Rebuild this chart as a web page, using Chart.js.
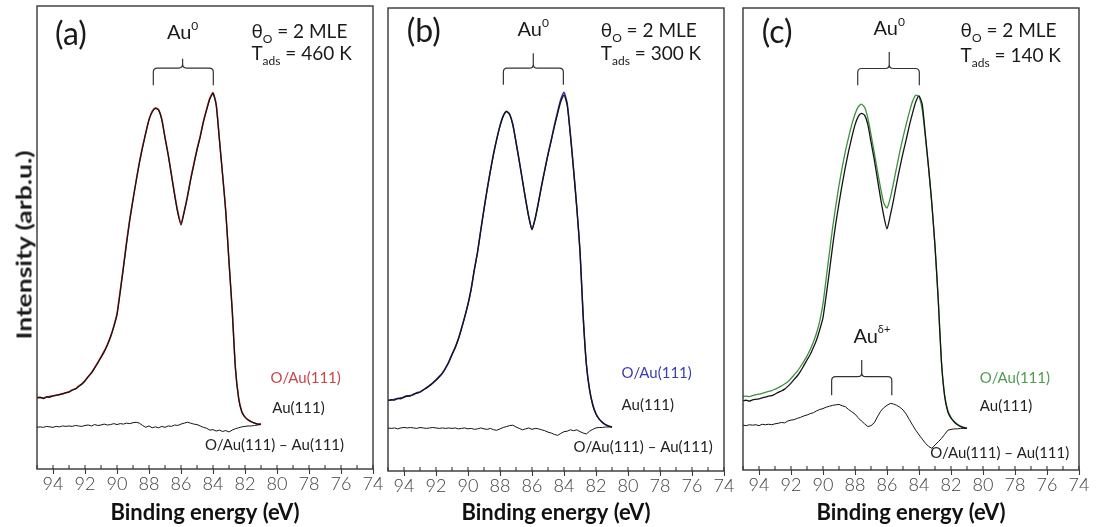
<!DOCTYPE html>
<html><head><meta charset="utf-8">
<script src="https://cdn.jsdelivr.net/npm/chart.js@4.4.1/dist/chart.umd.min.js"></script>
<style>
html,body{margin:0;padding:0;background:#fff;}
#wrap{position:relative;width:1096px;height:527px;overflow:hidden;background:#fff;}
canvas{position:absolute;top:0;}
#ytitle{position:absolute;left:23px;top:245px;transform:translate(-50%,-50%) rotate(-90deg) scale(1.26,1);font:bold 21px Lato,"Noto Sans",sans-serif;white-space:nowrap;color:#1a1a1a;}
</style></head><body>
<div id="wrap">
<canvas id="ca" width="392" height="527" style="left:0px;width:392px;height:527px"></canvas>
<canvas id="cb" width="362" height="527" style="left:378px;width:362px;height:527px"></canvas>
<canvas id="cc" width="363" height="527" style="left:733px;width:363px;height:527px"></canvas>
<div id="ytitle">Intensity (arb.u.)</div>
</div>
<script>
// Binding energies (eV)
const energy = [
 95.0,94.8,94.6,94.4,94.2,94.0,93.8,93.6,93.4,93.2,
 93.0,92.8,92.6,92.4,92.2,92.0,91.8,91.6,91.4,91.2,
 91.0,90.8,90.6,90.4,90.2,90.0,89.8,89.6,89.4,89.2,
 89.0,88.8,88.6,88.4,88.2,88.0,87.8,87.6,87.4,87.2,
 87.0,86.8,86.6,86.4,86.2,86.0,85.8,85.6,85.4,85.2,
 85.0,84.8,84.6,84.4,84.2,84.0,83.8,83.6,83.4,83.2,
 83.0,82.8,82.6,82.4,82.2,82.0,81.8,81.6,81.4,81.2,
 81.0];
const tickValues = [94,92,90,88,86,84,82,80,78,76,74];

// Panel (a) T_ads = 460 K
const auA = [
 15.3,15.5,15.2,15.6,15.5,15.8,15.9,16.1,16.2,16.5,
 16.6,17.0,17.3,17.8,18.3,19.0,19.9,20.7,21.8,22.9,
 24.1,25.3,26.8,28.5,30.7,33.3,38.2,43.4,48.8,53.8,
 58.1,62.2,66.1,69.5,72.6,75.4,77.1,77.9,77.5,75.4,
 71.5,67.8,63.5,59.2,55.3,52.7,55.5,58.7,62.4,65.7,
 68.9,71.7,74.9,77.5,79.9,81.1,78.6,71.1,63.5,55.5,
 44.7,34.3,21.8,15.3,12.3,11.2,10.6,10.2,9.9,9.7,
 9.7];
const oA = [
 15.5,15.4,15.4,15.5,15.7,15.8,16.0,16.0,16.3,16.4,
 16.7,17.1,17.3,17.9,18.4,19.1,20.0,20.8,21.9,23.0,
 24.2,25.5,26.9,28.7,30.9,33.6,38.5,43.7,49.1,54.0,
 58.3,62.4,66.3,69.6,72.7,75.5,77.3,78.0,77.6,75.6,
 71.7,68.0,63.7,59.4,55.6,53.0,55.7,58.9,62.6,65.9,
 69.1,71.9,75.1,77.7,80.1,81.3,78.8,71.3,63.6,55.6,
 44.8,34.4,21.9,15.4,12.4,11.2,10.6,10.2,9.9,9.7,
 9.7];
const dA = [
 9.0,9.1,9.0,9.2,9.1,9.0,9.2,9.1,9.3,9.2,
 9.3,9.2,9.4,9.3,9.2,9.4,9.5,9.3,9.6,9.4,
 9.5,9.7,9.5,9.6,9.8,9.6,9.8,9.7,9.9,9.8,
 10.0,10.1,9.9,9.4,9.0,9.3,8.9,9.1,8.9,9.2,
 9.0,9.3,9.2,9.5,9.4,9.7,9.9,10.1,9.9,9.7,
 9.6,9.3,9.0,8.8,8.4,8.5,8.2,8.4,8.1,8.3,
 8.0,8.4,8.7,8.9,9.1,9.2,9.3,9.3,9.4,9.5,
 9.6];

// Panel (b) T_ads = 300 K
const auB = [
 15.2,15.4,15.3,15.7,15.6,16.0,16.2,16.2,16.6,16.8,
 17.0,17.5,17.9,18.4,19.0,19.6,20.3,21.1,22.2,23.5,
 25.1,26.6,28.5,30.8,33.3,36.0,39.3,43.5,47.3,52.0,
 56.5,60.8,64.8,68.5,71.7,74.5,76.6,77.6,77.0,74.8,
 71.0,67.0,62.8,58.6,54.8,52.1,54.5,57.9,61.6,65.0,
 68.3,71.3,74.4,77.2,79.8,81.2,79.0,72.5,65.0,56.8,
 47.5,33.3,23.0,17.5,14.2,12.3,11.2,10.5,10.0,9.7,
 9.5];
const oB = [
 15.3,15.3,15.5,15.6,15.8,15.9,16.2,16.3,16.5,16.9,
 17.1,17.5,18.0,18.5,19.0,19.7,20.4,21.2,22.3,23.6,
 25.2,26.7,28.6,30.9,33.4,36.1,39.4,43.6,47.4,52.1,
 56.6,60.9,64.9,68.6,71.8,74.6,76.7,77.7,77.1,74.9,
 71.1,67.1,62.9,58.7,54.9,52.2,54.6,58.0,61.7,65.1,
 68.5,71.5,74.7,77.6,80.3,81.8,79.4,72.8,65.1,56.9,
 47.5,33.3,23.0,17.5,14.3,12.3,11.2,10.5,10.0,9.7,
 9.5];
const dB = [
 9.3,9.2,9.3,9.1,9.3,9.4,9.3,9.4,9.3,9.2,
 9.4,9.3,9.2,9.3,9.4,9.3,9.2,9.3,9.2,9.3,
 9.2,9.3,9.1,9.2,9.3,9.1,9.2,9.0,9.1,9.3,
 9.1,9.0,9.2,8.9,8.8,9.1,9.4,9.6,9.8,9.9,
 9.5,9.2,8.9,9.1,9.3,9.0,9.2,9.1,8.9,8.7,
 8.4,8.2,7.9,7.7,8.1,8.5,8.6,8.9,8.7,8.9,
 8.5,8.2,8.0,8.6,9.0,9.3,9.4,9.4,9.5,9.5,
 9.5];

// Panel (c) T_ads = 140 K
const auC = [
 15.0,15.1,14.9,15.2,15.3,15.4,15.6,15.8,16.0,16.1,
 16.4,16.8,17.1,17.5,18.1,18.8,19.6,20.4,21.4,22.6,
 23.8,25.0,26.5,28.2,30.4,33.0,37.8,43.0,48.4,53.4,
 57.7,61.8,65.6,69.0,72.0,74.7,76.5,77.2,76.8,74.8,
 71.0,67.3,63.0,58.8,55.0,52.2,55.0,58.3,62.0,65.4,
 68.6,71.5,74.6,77.3,79.7,81.0,79.2,72.5,65.5,57.8,
 48.5,37.0,23.5,16.0,12.6,11.2,10.4,9.8,9.4,9.2,
 9.0];
const oC = [
 15.9,16.0,15.9,16.1,16.3,16.4,16.6,16.8,17.0,17.2,
 17.5,17.8,18.2,18.6,19.1,19.8,20.6,21.4,22.4,23.5,
 24.7,26.1,27.7,29.7,32.3,36.0,41.5,47.0,52.4,57.2,
 61.6,65.5,69.0,72.0,74.8,77.0,78.6,79.2,78.5,76.2,
 72.6,68.8,64.8,61.0,57.8,56.7,58.8,62.0,65.5,68.9,
 72.0,74.8,77.5,79.8,81.1,80.8,78.0,72.0,65.2,57.6,
 48.4,37.0,23.7,16.3,12.9,11.4,10.5,9.9,9.5,9.2,
 9.0];
const dC = [
 9.7,9.6,9.8,9.7,9.8,9.6,9.9,9.8,9.9,9.8,
 10.0,10.1,10.3,10.2,10.6,10.8,10.9,11.2,11.4,11.7,
 11.9,12.2,12.4,12.8,13.1,13.3,13.6,13.8,14.0,14.1,
 14.2,13.9,13.7,13.1,12.6,12.1,11.3,10.6,10.0,9.4,
 9.6,10.2,11.5,12.7,13.5,14.0,14.4,14.3,14.0,13.6,
 13.0,12.1,10.9,9.7,8.6,7.6,6.7,5.8,5.1,4.7,
 5.4,6.1,6.8,7.7,8.6,8.8,8.9,8.9,9.0,9.0,
 9.0];

const FONT = 'Lato, "Noto Sans", "DejaVu Sans", sans-serif';
const pts = arr => energy.map((e, i) => ({x: e, y: arr[i]}));

function drawRich(ctx, parts, x, y, align, color) {
  let w = 0;
  parts.forEach(p => { ctx.font = (p.w || 'normal') + ' ' + p.s + 'px ' + FONT; p._w = ctx.measureText(p.t).width; w += p._w; });
  let cx = align === 'center' ? x - w / 2 : x;
  ctx.fillStyle = color; ctx.textAlign = 'left'; ctx.textBaseline = 'alphabetic';
  parts.forEach(p => { ctx.font = (p.w || 'normal') + ' ' + p.s + 'px ' + FONT; ctx.fillText(p.t, cx, y + (p.dy || 0)); cx += p._w; });
}
function brace(ctx, xL, xR, xC, yB, yH, yT) {
  const r = 4;
  ctx.beginPath();
  ctx.moveTo(xL, yB); ctx.lineTo(xL, yH + r);
  ctx.quadraticCurveTo(xL, yH, xL + r, yH);
  ctx.lineTo(xC - r, yH);
  ctx.quadraticCurveTo(xC, yH, xC, yH - r);
  ctx.lineTo(xC, yT);
  ctx.moveTo(xC, yH - r);
  ctx.quadraticCurveTo(xC, yH, xC + r, yH);
  ctx.lineTo(xR - r, yH);
  ctx.quadraticCurveTo(xR, yH, xR, yH + r);
  ctx.lineTo(xR, yB);
  ctx.stroke();
}

function annPlugin(cfg) {
  return {
    id: 'ann',
    afterDatasetsDraw(chart) {
      const ctx = chart.ctx, xs = chart.scales.x, ys = chart.scales.y, a = chart.chartArea;
      const X = v => xs.getPixelForValue(v), Y = v => ys.getPixelForValue(v);
      ctx.save();
      ctx.strokeStyle = '#363636'; ctx.lineWidth = 1.4;
      ctx.strokeRect(a.left, a.top, a.right - a.left, a.bottom - a.top);
      ctx.lineWidth = 1.1;
      xs.ticks.forEach(t => { const px = X(t.value); ctx.beginPath(); ctx.moveTo(px, a.bottom); ctx.lineTo(px, a.bottom - 4); ctx.stroke(); });
      // panel letter
      ctx.font = '32px ' + FONT; ctx.fillStyle = '#1a1a1a'; ctx.textAlign = 'left'; ctx.textBaseline = 'middle';
      ctx.fillText(cfg.letter, X(cfg.letterX), Y(cfg.letterY));
      // Au0 label and brace
      drawRich(ctx, [{t: 'Au', s: 20}, {t: '0', s: 12, dy: -9}], X(cfg.au0.x), Y(cfg.au0.y), 'center', '#1a1a1a');
      ctx.strokeStyle = '#333'; ctx.lineWidth = 1.2;
      const b = cfg.brace;
      brace(ctx, X(b.x1), X(b.x2), X(b.xc), Y(b.vb), Y(b.vh), Y(b.vt));
      // conditions
      drawRich(ctx, [{t: 'θ', s: 19}, {t: 'O', s: 12, dy: 5}, {t: ' = 2 MLE', s: 19}], X(cfg.cond.x), Y(cfg.cond.y1), 'left', '#1a1a1a');
      drawRich(ctx, [{t: 'T', s: 19}, {t: 'ads', s: 12, dy: 5}, {t: ' = ' + cfg.temp, s: 19}], X(cfg.cond.x), Y(cfg.cond.y2), 'left', '#1a1a1a');
      if (cfg.auDelta) {
        const d = cfg.auDelta;
        drawRich(ctx, [{t: 'Au', s: 20}, {t: 'δ+', s: 11, dy: -10}], X(d.x), Y(d.y), 'left', '#1a1a1a');
        brace(ctx, X(d.x1), X(d.x2), X(d.xc), Y(d.vb), Y(d.vh), Y(d.vt));
      }
      cfg.labels.forEach(l => drawRich(ctx, [{t: l.t, s: 15}], X(l.x), Y(l.y), 'left', l.c));
      ctx.restore();
    }
  };
}

function makeChart(id, au, ox, diff, lineColor, oxWidth, pad, axisH, cfg) {
  new Chart(document.getElementById(id), {
    type: 'line',
    data: {datasets: [
      {data: pts(au), borderColor: '#141414', borderWidth: 1.3, pointRadius: 0, tension: 0.2},
      {data: pts(diff), borderColor: '#141414', borderWidth: 1.0, pointRadius: 0, tension: 0},
      {data: pts(ox), borderColor: lineColor, borderWidth: oxWidth, pointRadius: 0, tension: 0.2}
    ]},
    options: {
      responsive: false, animation: false, devicePixelRatio: 1,
      layout: {padding: pad},
      plugins: {legend: {display: false}, tooltip: {enabled: false}},
      scales: {
        x: {
          type: 'linear', reverse: true, min: 74, max: 95,
          afterFit(s) { s.height = axisH; },
          afterBuildTicks(s) {
            const t = [];
            for (const v of tickValues) { t.push({value: v}); if (v + 1 <= 95) t.push({value: v + 1}); }
            t.sort((p, q) => p.value - q.value);
            s.ticks = t;
          },
          ticks: {autoSkip: false, maxRotation: 0, padding: -1, color: '#404040',
            font: {family: FONT, size: 18, weight: 300},
            callback: v => tickValues.includes(v) ? String(v) : ''},
          grid: {drawOnChartArea: false, drawTicks: true, tickLength: 5, tickWidth: 1.1,
            tickColor: c => (c.tick && tickValues.includes(c.tick.value)) ? '#3a3a3a' : 'rgba(0,0,0,0)'},
          border: {display: false},
          title: {display: true, text: 'Binding energy (eV)', color: '#111',
            font: {family: FONT, size: 22, weight: 'bold'}, padding: {top: 0, bottom: 1}}
        },
        y: {display: false, min: 0, max: 100}
      }
    },
    plugins: [annPlugin(cfg)]
  });
}

makeChart('ca', auA, oA, dA, 'rgb(215,50,50)', 1.5, {left: 37, right: 19, top: 6, bottom: 0}, 58, {
  letter: '(a)', letterX: 93.875, letterY: 93.7, temp: '460 K',
  au0: {x: 85.9, y: 92.9},
  brace: {x1: 87.73, x2: 83.98, xc: 85.9, vb: 82.9, vh: 86.6, vt: 88.6},
  cond: {x: 81.6, y1: 93.1, y2: 88.3},
  labels: [
    {t: 'O/Au(111)', x: 80.4, y: 18.6, c: 'rgb(200,70,70)'},
    {t: 'Au(111)', x: 80.3, y: 12.1, c: '#222'},
    {t: 'O/Au(111) – Au(111)', x: 84.5, y: 4.1, c: '#222'}
  ]
});
makeChart('cb', auB, oB, dB, 'rgb(50,50,175)', 1.5, {left: 10, right: 16, top: 8, bottom: 0}, 56, {
  letter: '(b)', letterX: 93.83, letterY: 94.8, temp: '300 K',
  au0: {x: 85.92, y: 94.0},
  brace: {x1: 87.79, x2: 84.04, xc: 85.92, vb: 83.4, vh: 87.0, vt: 90.2},
  cond: {x: 81.7, y1: 93.7, y2: 88.8},
  labels: [
    {t: 'O/Au(111)', x: 80.4, y: 20.1, c: 'rgb(60,60,175)'},
    {t: 'Au(111)', x: 80.4, y: 13.2, c: '#222'},
    {t: 'O/Au(111) – Au(111)', x: 83.4, y: 4.2, c: '#222'}
  ]
});
makeChart('cc', auC, oC, dC, 'rgb(60,145,60)', 1.3, {left: 10, right: 17, top: 8, bottom: 0}, 57, {
  letter: '(c)', letterX: 93.83, letterY: 94.6, temp: '140 K',
  au0: {x: 85.86, y: 94.2},
  brace: {x1: 87.83, x2: 83.98, xc: 85.86, vb: 83.3, vh: 86.9, vt: 90.5},
  cond: {x: 81.4, y1: 93.8, y2: 88.4},
  auDelta: {x: 88.1, y: 27.5, x1: 89.46, x2: 85.7, xc: 87.58, vb: 16.2, vh: 20.2, vt: 23.8},
  labels: [
    {t: 'O/Au(111)', x: 80.2, y: 18.8, c: 'rgb(80,155,80)'},
    {t: 'Au(111)', x: 80.2, y: 12.8, c: '#222'},
    {t: 'O/Au(111) – Au(111)', x: 83.3, y: 2.6, c: '#222'}
  ]
});
</script>
</body></html>
